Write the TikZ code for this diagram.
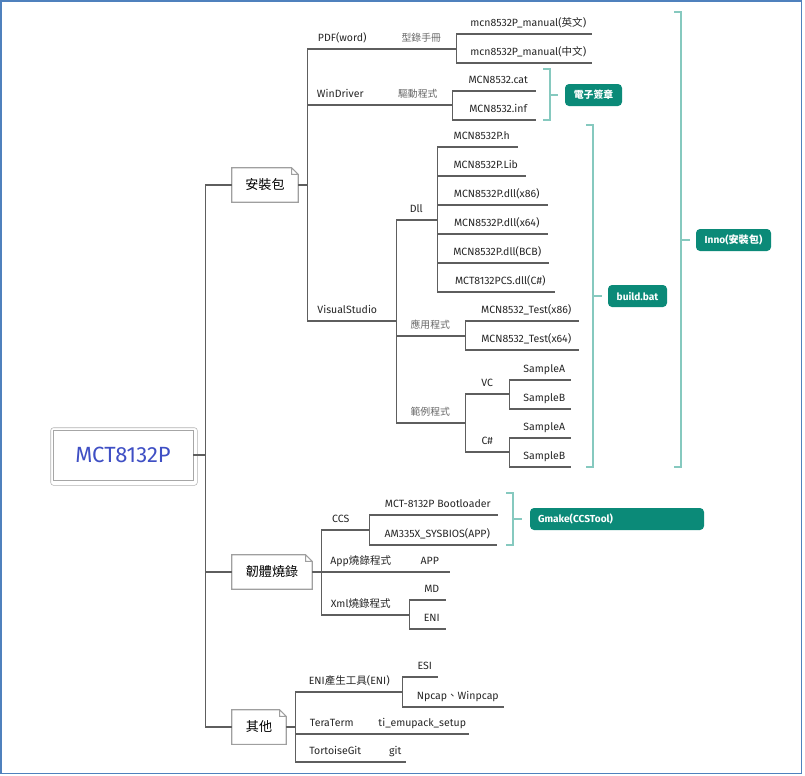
\documentclass[tikz,border=0pt]{standalone}
\usepackage{fontspec}
\setmainfont{Fira Sans}
\newfontfamily\cjk{Noto Sans CJK TC}
\usepackage{xcolor}
\definecolor{linegray}{HTML}{5E5E5E}
\definecolor{tagteal}{HTML}{0B8A78}
\definecolor{bracketteal}{HTML}{86C9BF}
\definecolor{rootblue}{HTML}{3F4FC4}
\definecolor{frameblue}{HTML}{4F81BD}

\tikzset{
  branch/.style={draw=linegray, line width=0.8pt},
  bracket/.style={draw=bracketteal, line width=0.9pt},
  leaf/.style={anchor=south west, inner xsep=0pt, inner ysep=3.2pt, text depth=2pt,
    minimum width=#1*0.75pt, font=\fontsize{7.9}{9}\selectfont, text=black!85,
    append after command={(\tikzlastnode.south west) edge[branch] (\tikzlastnode.south east)}},
  cjkleaf/.style={leaf=#1, font=\cjk\fontsize{7.4}{9}\selectfont, text=black!60},
  topic/.style={inner sep=0pt, minimum width=#1*0.75pt, minimum height=34*0.75pt,
    font=\cjk\fontsize{9.8}{12}\selectfont},
  tag/.style={fill=tagteal, rounded corners=3pt, text=white, inner sep=0pt,
    minimum width=#1*0.75pt, minimum height=22*0.75pt, font=\bfseries\fontsize{7.6}{9}\selectfont},
}

\begin{document}
\begin{tikzpicture}[x=0.75pt, y=-0.75pt]
    \useasboundingbox (0,0) rectangle (805,775);
    \draw[frameblue, line width=1.2pt] (1,1) rectangle (801.5,773.5);

    % root
    \node[draw=gray!70, minimum width=140*0.75pt, minimum height=50*0.75pt, inner sep=0pt,
      font=\fontsize{16.5}{19}\selectfont, text=rootblue] (root) at (123,455) {MCT8132P};
    \draw[gray!60, rounded corners=2pt] ([shift={(-2,-2)}]root.north west) rectangle ([shift={(4,5)}]root.south east);

    % main topics
    \node[topic=66] (install) at (265,185) {安裝包};
    \node[topic=80] (firm) at (272,572) {韌體燒錄};
    \node[topic=54] (other) at (259,727) {其他};
    \foreach \n in {install,firm,other}
      \draw[draw=gray!75, line width=0.8pt] (\n.south west) -- (\n.north west) -- ([xshift=-5pt]\n.north east)
        -- ([yshift=-5pt]\n.north east) -- (\n.south east) -- cycle
        ([xshift=-5pt]\n.north east) -- ([xshift=-5pt,yshift=-5pt]\n.north east) -- ([yshift=-5pt]\n.north east);

    % install package
    \node[leaf=70] (pdf) at (307,49) {PDF(word)};
    \node[leaf=66] (windrv) at (307,105) {WinDriver};
    \node[leaf=80] (vs) at (307,321) {VisualStudio};
    \node[cjkleaf=52] (catalog) at (395,49) {型錄手冊};
    \node[leaf=126] (manen) at (465,34) {mcn8532P\_manual({\cjk 英文})};
    \node[leaf=126] (manzh) at (465,63) {mcn8532P\_manual({\cjk 中文})};
    \node[cjkleaf=51] (driver) at (392,105) {驅動程式};
    \node[leaf=74] (cat) at (461,91) {MCN8532.cat};
    \node[leaf=74] (inf) at (461,120) {MCN8532.inf};
    \node[leaf=24] (dll) at (404,220) {Dll};
    \node[cjkleaf=52] (app) at (404,336) {應用程式};
    \node[cjkleaf=52] (sample) at (404,423) {範例程式};
    \node[leaf=71] (dllh) at (446,147) {MCN8532P.h};
    \node[leaf=79] (dlllib) at (446,176) {MCN8532P.Lib};
    \node[leaf=101] (dllx86) at (446,205) {MCN8532P.dll(x86)};
    \node[leaf=101] (dllx64) at (446,234) {MCN8532P.dll(x64)};
    \node[leaf=102] (dllbcb) at (446,263) {MCN8532P.dll(BCB)};
    \node[leaf=108] (dllcs) at (446,292) {MCT8132PCS.dll(C\#)};
    \node[leaf=104] (testx86) at (474,321) {MCN8532\_Test(x86)};
    \node[leaf=104] (testx64) at (474,350) {MCN8532\_Test(x64)};
    \node[leaf=26] (vc) at (474,394) {VC};
    \node[leaf=26] (cs) at (474,452) {C\#};
    \node[leaf=52] (vca) at (518,380) {SampleA};
    \node[leaf=52] (vcb) at (518,409) {SampleB};
    \node[leaf=52] (csa) at (518,438) {SampleA};
    \node[leaf=52] (csb) at (518,467) {SampleB};

    % firmware
    \node[leaf=39] (ccs) at (321,530) {CCS};
    \node[leaf=119] (boot) at (378,515) {MCT-8132P Bootloader};
    \node[leaf=118] (sysbios) at (378,545) {AM335X\_SYSBIOS(APP)};
    \node[leaf=79] (appburn) at (321,572) {App{\cjk 燒錄程式}};
    \node[leaf=39] (appfile) at (410,572) {APP};
    \node[leaf=79] (xmlburn) at (321,615) {Xml{\cjk 燒錄程式}};
    \node[leaf=27] (md) at (418,600) {MD};
    \node[leaf=27] (eni) at (418,629) {ENI};

    % others
    \node[leaf=88] (enitool) at (305,692) {ENI{\cjk 產生工具}(ENI)};
    \node[leaf=25] (esi) at (412,677) {ESI};
    \node[leaf=91] (npcap) at (412,707) {Npcap{\cjk 、}Winpcap};
    \node[leaf=53] (teraterm) at (305,734) {TeraTerm};
    \node[leaf=92] (emupack) at (376,734) {ti\_emupack\_setup};
    \node[leaf=60] (tortoise) at (305,762) {TortoiseGit};
    \node[leaf=20] (git) at (385,762) {git};

    % tags
    \node[tag=57, font=\cjk\bfseries\fontsize{7.4}{9}\selectfont] (sign) at (593.5,95) {電子簽章};
    \node[tag=59] (build) at (637.5,296) {build.bat};
    \node[tag=75] (inno) at (733.5,240) {Inno({\cjk 安裝包})};
    \node[tag=174, inner xsep=6pt, text width=118.5pt, align=left] (gmake) at (617,519) {Gmake(CCSTool)};

    % connectors
    \foreach \c in {install,firm,other}
      \draw[branch] (root.east) -- ++(12,0) |- (\c.west);
    \foreach \p/\c in {install/pdf,install/windrv,install/vs,firm/ccs,firm/appburn,firm/xmlburn,
        other/enitool,other/teraterm,other/tortoise}
      \draw[branch] (\p.east) -- ++(9,0) |- (\c.south west);
    \foreach \p/\c in {pdf/catalog,windrv/driver,appburn/appfile,teraterm/emupack,tortoise/git}
      \draw[branch] (\p.south east) -- (\c.south west);
    \foreach \p/\c in {catalog/manen,catalog/manzh,driver/cat,driver/inf,vs/dll,vs/app,vs/sample,
        dll/dllh,dll/dlllib,dll/dllx86,dll/dllx64,dll/dllbcb,dll/dllcs,app/testx86,app/testx64,
        sample/vc,sample/cs,vc/vca,vc/vcb,cs/csa,cs/csb,ccs/boot,ccs/sysbios,xmlburn/md,xmlburn/eni,
        enitool/esi,enitool/npcap}
      \draw[branch] (\p.south east) -- ++(9,0) |- (\c.south west);

    % brackets
    \draw[bracket] (543,69) -- (550,69) -- (550,120) -- (543,120);
    \draw[bracket] (550,95) -- ([xshift=-5pt]sign.west);
    \draw[bracket] (586,125) -- (593,125) -- (593,467) -- (586,467);
    \draw[bracket] (593,296) -- ([xshift=-4pt]build.west);
    \draw[bracket] (674,12) -- (681,12) -- (681,467) -- (674,467);
    \draw[bracket] (681,240) -- ([xshift=-4pt]inno.west);
    \draw[bracket] (506,493) -- (513,493) -- (513,545) -- (506,545);
    \draw[bracket] (513,519) -- ([xshift=-6pt]gmake.west);
\end{tikzpicture}
\end{document}
